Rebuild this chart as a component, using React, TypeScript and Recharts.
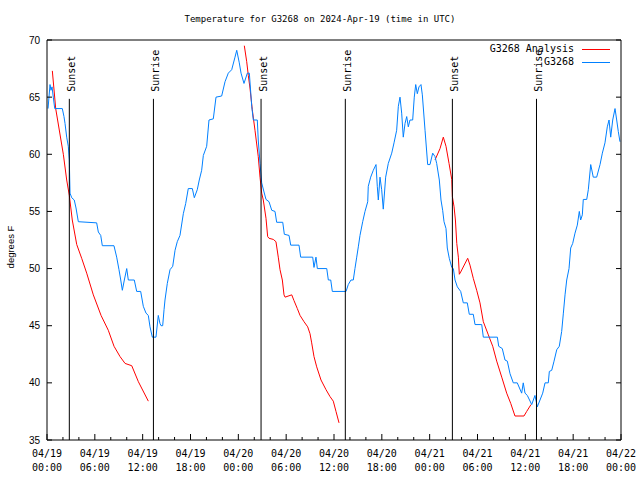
import React from "react";
import { LineChart, Line, XAxis, YAxis, ReferenceLine } from "recharts";

// hours since 2024-04-19 00:00 UTC
const obsHours = [
  0.13, 0.38, 0.5, 0.63, 0.79, 0.97, 1.92, 2.13, 2.26, 2.47, 2.67, 2.8, 2.85, 2.89, 3.1, 3.42, 3.64, 3.93,
  6.23, 6.44, 6.74, 6.94, 8.4, 8.74, 9.03, 9.25, 9.45, 9.7, 10.0, 10.2, 10.95, 11.25, 11.75, 12.08, 12.42,
  12.71, 12.92, 13.21, 13.67, 13.96, 14.17, 14.3, 14.51, 14.68, 14.8, 15.09, 15.43, 15.77, 16.06, 16.34,
  16.68, 17.1, 17.4, 17.72, 18.23, 18.48, 18.85, 19.1, 19.4, 19.61, 20.03, 20.32, 20.86, 21.2, 21.91,
  22.33, 22.74, 23.17, 23.58, 23.8, 24.12, 24.34, 24.71, 25.13, 25.38, 25.68, 25.88, 26.38, 26.5, 26.72,
  26.93, 27.22, 27.47, 27.85, 28.19, 28.6, 28.81, 29.57, 29.77, 30.36, 30.57, 31.61, 31.82, 33.33, 33.49,
  33.74, 33.91, 35.09, 35.29, 35.59, 35.79, 37.51, 37.79, 38.13, 38.42, 38.63, 38.85, 39.05, 39.26, 39.6,
  39.89, 40.23, 40.3, 40.6, 40.93, 41.27, 41.43, 41.56, 41.77, 41.98, 42.18, 42.48, 42.81, 43.24, 43.53,
  43.86, 44.07, 44.28, 44.49, 44.69, 44.91, 45.12, 45.32, 45.53, 45.87, 46.07, 46.25, 46.45, 46.66, 46.91,
  47.08, 47.42, 47.75, 48.04, 48.38, 48.67, 48.88, 49.21, 49.42, 49.63, 49.8, 50.05, 50.21, 50.46, 50.77,
  50.97, 51.18, 51.47, 51.89, 52.22, 52.72, 52.97, 53.47, 53.69, 54.53, 54.73, 56.49, 56.66, 57.11, 57.45,
  57.74, 58.08, 58.49, 58.99, 59.54, 59.74, 59.96, 60.25, 60.8, 61.21, 61.5, 61.84, 62.18, 62.47, 62.88,
  63.01, 63.31, 63.6, 63.94, 64.26, 64.56, 64.77, 64.98, 65.19, 65.48, 65.69, 65.94, 66.23, 66.52, 66.77,
  66.94, 67.15, 67.27, 67.7, 67.9, 68.2, 68.52, 68.95, 69.37, 69.66, 69.99, 70.28, 70.5, 70.71, 70.96,
  71.25, 71.46, 71.66, 71.87,
];
const obsTemps = [
  64.0, 66.1, 65.6, 65.9, 65.0, 64.0, 64.0, 63.3, 62.7, 61.5, 60.7, 59.5, 57.75, 56.6, 56.2, 56.0, 55.3, 54.1,
  54.0, 53.2, 52.9, 52.0, 52.0, 51.0, 49.9, 49.0, 48.1, 49.0, 50.0, 49.0, 49.0, 48.0, 48.0, 46.7, 46.1,
  45.9, 44.9, 44.0, 44.0, 45.9, 45.2, 45.0, 45.0, 46.4, 47.25, 48.7, 49.9, 50.2, 51.6, 52.35,
  52.9, 54.8, 55.7, 57.0, 57.0, 56.2, 56.9, 57.75, 58.6, 59.9, 60.7, 63.0, 63.1, 65.0, 65.1,
  66.35, 67.1, 67.4, 68.5, 69.1, 68.0, 67.1, 66.2, 67.1, 67.1, 64.2, 63.0, 63.0, 61.25, 59.2,
  57.5, 56.7, 56.05, 55.85, 55.1, 55.0, 54.05, 54.05, 53.0, 52.9, 52.05, 52.05, 51.0, 51.0, 50.1,
  51.0, 50.0, 50.0, 49.0, 49.0, 48.0, 48.0, 48.6, 49.0, 49.0, 50.0, 51.0, 51.9, 52.9, 54.1,
  55.0, 55.85, 57.2, 58.0, 58.6, 59.1, 57.2, 56.0, 58.0, 56.9, 55.2, 58.0, 59.2, 60.1, 61.0,
  62.1, 64.2, 65.0, 63.6, 61.5, 62.7, 63.3, 62.4, 63.0, 63.0, 65.0, 66.1, 65.3, 65.9, 66.1,
  65.2, 62.1, 59.1, 59.1, 60.1, 59.8, 59.2, 57.75, 56.0, 55.1, 54.1, 53.5, 51.8, 50.9, 50.1,
  50.0, 49.0, 48.4, 48.0, 47.0, 47.0, 46.0, 46.0, 45.1, 45.1, 44.0, 44.0, 43.2, 43.0, 42.0,
  41.9, 40.8, 40.0, 40.0, 39.1, 40.0, 39.1, 38.9, 38.1, 38.9, 37.9, 38.5, 39.1, 40.0, 40.0,
  41.0, 41.1, 41.9, 42.9, 43.2, 44.5, 46.1, 47.7, 49.0, 50.0, 51.8, 52.2, 53.1, 53.8, 55.0,
  54.25, 54.7, 56.05, 56.05, 56.9, 59.1, 58.0, 58.0, 59.1, 60.1, 61.0, 62.4, 63.0, 61.5, 63.0,
  64.0, 63.0, 62.0, 61.1,
];

// analysis runs (three separate pieces)
const anaHours1 = [0.67, 1.09, 2.05, 2.47, 2.8, 3.17, 3.73, 4.35, 4.98, 5.81, 6.78, 7.69, 8.41, 9.16, 9.79, 10.63, 11.46, 12.71];
const anaTemps1 = [67.3, 64.0, 60.0, 57.75, 56.4, 54.25, 52.1, 50.9, 49.6, 47.7, 45.9, 44.6, 43.2, 42.3, 41.7, 41.5, 40.1, 38.4];
const anaHours2 = [
  24.75, 25.05, 25.25, 25.46, 25.75, 26.09, 26.5, 26.72, 26.93, 27.13, 27.47, 27.68, 27.85, 28.39, 28.72, 29.01,
  29.23, 29.52, 29.73, 29.86, 30.7, 30.98, 31.4, 31.74, 32.24, 32.7, 32.99, 33.2, 33.49, 33.83, 34.37, 35.0,
  35.5, 35.91, 36.25, 36.63,
];
const anaTemps2 = [
  69.5, 68.1, 66.9, 65.8, 63.9, 62.1, 59.8, 58.0, 56.6, 56.0, 54.4, 52.8, 52.65, 52.55, 52.35, 51.0,
  49.9, 49.0, 47.7, 47.5, 47.7, 47.2, 46.5, 45.9, 45.35, 44.9, 44.3, 43.5, 42.3, 41.4, 40.25, 39.4,
  38.8, 38.4, 37.5, 36.5,
];
const anaHours3 = [
  48.67, 49.3, 49.71, 50.05, 50.43, 50.77, 50.85, 51.06, 51.23, 51.4, 51.6, 51.72, 51.89, 52.77, 53.06, 53.47,
  53.9, 54.31, 54.73, 55.36, 55.91, 56.41, 57.04, 57.66, 58.17, 58.7, 59.83, 60.17, 60.71,
];
const anaTemps3 = [
  59.5, 60.5, 61.5, 60.7, 59.2, 57.8, 56.3, 55.4, 54.25, 52.2, 51.0, 49.5, 49.7, 50.9, 50.3, 49.15,
  48.1, 47.0, 45.35, 44.2, 43.2, 41.9, 40.5, 39.1, 38.2, 37.1, 37.1, 37.5, 38.1,
];

const sunHours = [2.8, 13.35, 26.85, 37.42, 50.85, 61.4];
const sunLabels = ["Sunset", "Sunrise", "Sunset", "Sunrise", "Sunset", "Sunrise"];

const seriesNames = ["G3268 Analysis", "G3268"];
const seriesColors = ["#ff0000", "#0080ff"];

const timeTicks = [0, 2, 4, 6, 8, 10, 12, 14, 16, 18, 20, 22, 24, 26, 28, 30, 32, 34, 36, 38, 40, 42, 44, 46, 48, 50, 52, 54, 56, 58, 60, 62, 64, 66, 68, 70, 72];
const tempTicks = [35, 40, 45, 50, 55, 60, 65, 70];

const MONO = "'DejaVu Sans Mono', monospace";
const SANS = "'Liberation Sans', Arial, sans-serif";

const zip = (hs: number[], ts: number[]) => hs.map((h, i) => ({ h, t: ts[i] }));
const obsData = zip(obsHours, obsTemps);
const anaRuns = [zip(anaHours1, anaTemps1), zip(anaHours2, anaTemps2), zip(anaHours3, anaTemps3)];

const pad = (n: number) => String(n).padStart(2, "0");
const isMajor = (h: number) => h % 6 === 0;

function BottomTick({ x, y, payload }: any) {
  const h = payload.value;
  const day = 19 + Math.floor(h / 24);
  return (
    <g>
      <line x1={x} x2={x} y1={y} y2={y - (isMajor(h) ? 6 : 3)} stroke="#000" />
      {isMajor(h) && (
        <text x={x} y={y} textAnchor="middle" fontFamily={MONO} fontSize={10} fill="#000">
          <tspan x={x} dy={17}>{`04/${pad(day)}`}</tspan>
          <tspan x={x} dy={14}>{`${pad(h % 24)}:00`}</tspan>
        </text>
      )}
    </g>
  );
}

function TopTick({ x, y, payload }: any) {
  return <line x1={x} x2={x} y1={y} y2={y + (isMajor(payload.value) ? 6 : 3)} stroke="#000" />;
}

function LeftTick({ x, y, payload }: any) {
  return (
    <g>
      <line x1={x} x2={x + 5} y1={y} y2={y} stroke="#000" />
      <text x={x - 7} y={y} dy="0.36em" textAnchor="end" fontFamily={SANS} fontSize={10} fill="#000">
        {payload.value}
      </text>
    </g>
  );
}

function RightTick({ x, y }: any) {
  return <line x1={x} x2={x - 5} y1={y} y2={y} stroke="#000" />;
}

function SunLabel({ viewBox, value }: any) {
  const tx = viewBox.x + 6;
  const ty = viewBox.y - 7;
  return (
    <text x={tx} y={ty} transform={`rotate(-90 ${tx} ${ty})`} fontFamily={MONO} fontSize={10} fill="#000">
      {value}
    </text>
  );
}

function KeyBox() {
  return (
    <div
      style={{
        position: "absolute", top: 43, right: 29, fontFamily: MONO, fontSize: 10, lineHeight: "12.5px", color: "#000",
      }}
    >
      {seriesNames.map((name, i) => (
        <div key={name} style={{ display: "flex", alignItems: "center", justifyContent: "flex-end" }}>
          <span>{name}</span>
          <svg width={37} height={12} style={{ display: "block" }}>
            <line x1={8} x2={36} y1={6.5} y2={6.5} stroke={seriesColors[i]} strokeWidth={1} />
          </svg>
        </div>
      ))}
    </div>
  );
}

export default function App() {
  return (
    <div style={{ position: "absolute", left: 0, top: 0, width: 640, height: 480, background: "#fff" }}>
      <div
        style={{
          position: "absolute", left: 0, top: 14, width: 640, textAlign: "center",
          fontFamily: MONO, fontSize: 9, color: "#000",
        }}
      >
        Temperature for G3268 on 2024-Apr-19 (time in UTC)
      </div>
      <div
        style={{
          position: "absolute", left: -40, top: 247, width: 100, textAlign: "center",
          transform: "translateY(-50%) rotate(-90deg)", fontFamily: SANS, fontSize: 9.5, color: "#000",
        }}
      >
        degrees F
      </div>
      <LineChart width={640} height={480} margin={{ top: 39, right: 18, bottom: 39, left: 46 }}>
        <XAxis
          dataKey="h"
          type="number"
          domain={[0, 72]}
          allowDataOverflow
          ticks={timeTicks}
          interval={0}
          height={1}
          tickSize={0}
          tickMargin={0}
          tickLine={false}
          tick={<BottomTick />}
          stroke="#000"
        />
        <XAxis xAxisId="top" orientation="top" type="number" domain={[0, 72]} allowDataOverflow ticks={timeTicks}
          interval={0} height={1} tickSize={0} tickMargin={0} tickLine={false} tick={<TopTick />} stroke="#000" />
        <YAxis
          type="number"
          domain={[35, 70]}
          allowDataOverflow
          ticks={tempTicks}
          interval={0}
          width={1}
          tickSize={0}
          tickMargin={0}
          tickLine={false}
          tick={<LeftTick />}
          stroke="#000"
        />
        <YAxis yAxisId="right" orientation="right" type="number" domain={[35, 70]} allowDataOverflow
          ticks={tempTicks} interval={0} width={1} tickSize={0} tickMargin={0} tickLine={false}
          tick={<RightTick />} stroke="#000" />
        {anaRuns.map((run, i) => (
          <Line key={i} data={run} dataKey="t" type="linear" stroke={seriesColors[0]} strokeWidth={1}
            dot={false} isAnimationActive={false} />
        ))}
        <Line data={obsData} dataKey="t" type="linear" stroke={seriesColors[1]} strokeWidth={1}
          dot={false} isAnimationActive={false} />
        {sunHours.map((h, i) => (
          <ReferenceLine
            key={i}
            segment={[{ x: h, y: 64.85 }, { x: h, y: 35 }]}
            stroke="#000"
            strokeWidth={1}
            label={<SunLabel value={sunLabels[i]} />}
          />
        ))}
      </LineChart>
      <KeyBox />
    </div>
  );
}
